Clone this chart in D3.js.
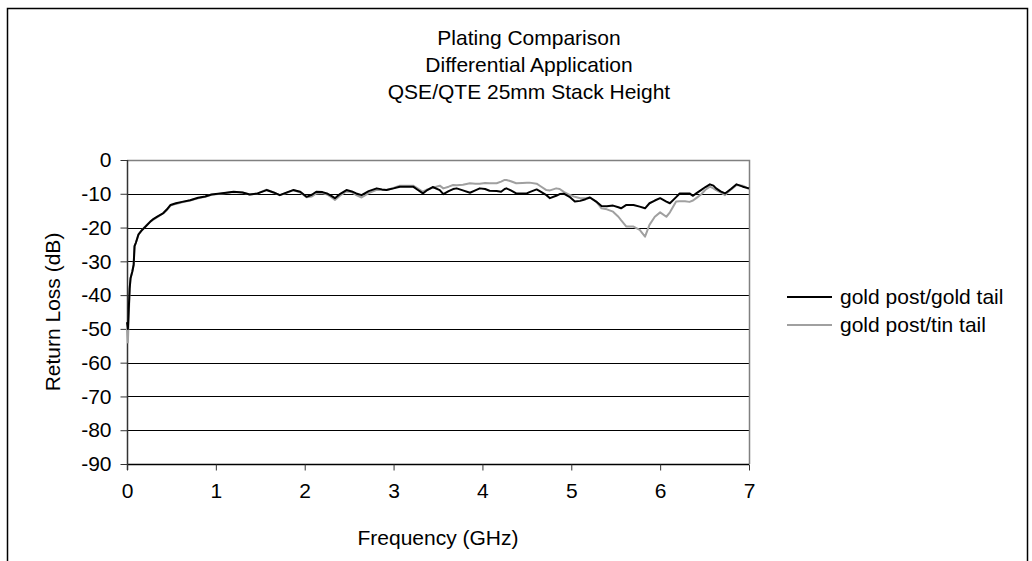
<!DOCTYPE html>
<html>
<head>
<meta charset="utf-8">
<script src="https://cdn.jsdelivr.net/npm/d3@7"></script>
<style>
  body { margin: 0; background: #fff; }
  svg { display: block; font-family: "Liberation Sans", Arial, sans-serif; }
</style>
</head>
<body>
<svg id="vis" width="1032" height="561"></svg>
<script>
'use strict';

var titleLines = ['Plating Comparison', 'Differential Application', 'QSE/QTE 25mm Stack Height'];
var seriesNames = ['gold post/gold tail', 'gold post/tin tail'];
var xTicks = [0, 1, 2, 3, 4, 5, 6, 7];
var yTicks = [0, -10, -20, -30, -40, -50, -60, -70, -80, -90];

// frequency in GHz
var freq = [0, 0.01, 0.02, 0.03, 0.04, 0.06, 0.075, 0.085, 0.1, 0.13, 0.17, 0.21, 0.26, 0.3, 0.35,
    0.41, 0.45, 0.49, 0.55, 0.62, 0.71, 0.8, 0.88, 0.95, 1.05, 1.2, 1.3, 1.38, 1.47, 1.57,
    1.65, 1.72, 1.8, 1.87, 1.95, 2.02, 2.08, 2.13, 2.2, 2.25, 2.3, 2.34, 2.4, 2.47, 2.53,
    2.58, 2.64, 2.72, 2.81, 2.87, 2.92, 3.0, 3.07, 3.15, 3.22, 3.27, 3.33, 3.38, 3.44, 3.52,
    3.56, 3.62, 3.67, 3.71, 3.78, 3.86, 3.92, 3.97, 4.03, 4.08, 4.16, 4.21, 4.25, 4.27, 4.32,
    4.38, 4.45, 4.5, 4.53, 4.61, 4.65, 4.72, 4.76, 4.83, 4.87, 4.92, 4.98, 5.04, 5.1, 5.16,
    5.21, 5.28, 5.34, 5.4, 5.47, 5.53, 5.56, 5.62, 5.7, 5.77, 5.83, 5.88, 5.94, 6.0, 6.07,
    6.11, 6.18, 6.22, 6.28, 6.33, 6.37, 6.41, 6.46, 6.51, 6.56, 6.6, 6.63, 6.68, 6.73, 6.8,
    6.86, 6.93, 7.0];

// return loss in dB, gold post/gold tail
var goldTail = [-48, -50, -44, -38, -35, -33, -31, -25.5, -24.5, -22, -20.7, -19.7, -18.3, -17.4, -16.6,
    -15.7, -14.6, -13.3, -12.8, -12.4, -11.9, -11.2, -10.8, -10.2, -9.9, -9.4, -9.6, -10.2, -9.9, -8.9,
    -9.6, -10.4, -9.6, -8.9, -9.4, -10.9, -10.3, -9.4, -9.5, -9.9, -10.6, -11.3, -10.0, -8.9, -9.3,
    -9.9, -10.4, -9.2, -8.4, -8.7, -8.9, -8.4, -7.9, -7.9, -7.9, -8.8, -9.9, -8.9, -8.0, -8.9,
    -10.1, -9.2, -8.6, -8.4, -9.0, -9.7, -9.0, -8.4, -8.6, -9.1, -9.2, -9.4, -8.6, -8.4, -9.0,
    -9.9, -9.9, -9.9, -9.5, -8.7, -9.3, -10.4, -11.3, -10.6, -10.1, -10.0, -10.9, -12.3, -12.1, -11.6,
    -11.1, -12.3, -13.6, -13.7, -13.5, -14.0, -14.3, -13.3, -13.3, -13.8, -14.3, -12.8, -12.0, -11.3, -12.3,
    -12.8, -11.0, -9.9, -9.9, -9.9, -10.6, -9.8, -8.9, -8.0, -7.2, -7.6, -8.4, -9.3, -9.9, -8.5,
    -7.2, -7.9, -8.4];

// return loss in dB, gold post/tin tail
var tinTail = [-50, -54, -46, -38, -35, -33, -31, -25.5, -24.5, -22, -20.7, -19.5, -18.3, -17.6, -16.8,
    -15.7, -14.8, -13.5, -13.0, -12.5, -12.0, -11.3, -10.9, -10.3, -10.0, -9.5, -9.6, -10.2, -9.9, -8.8,
    -9.6, -10.4, -9.7, -8.9, -9.6, -11.0, -10.8, -9.9, -9.8, -10.2, -11.0, -11.8, -10.5, -9.3, -9.5,
    -10.4, -11.1, -9.8, -8.8, -8.9, -8.9, -8.3, -7.6, -7.6, -7.6, -8.4, -9.4, -8.7, -8.2, -7.6,
    -8.4, -7.9, -7.4, -7.5, -7.3, -6.9, -7.0, -7.0, -6.8, -6.9, -6.9, -6.4, -5.9, -5.9, -6.3,
    -6.9, -6.8, -6.7, -6.7, -7.0, -7.7, -8.9, -9.0, -8.4, -8.6, -9.5, -10.3, -10.9, -11.3, -11.3,
    -11.1, -12.3, -14.3, -14.6, -15.3, -16.8, -17.8, -19.7, -19.7, -20.7, -22.7, -19.2, -16.8, -15.5, -16.8,
    -15.5, -12.3, -12.2, -12.2, -12.4, -12.0, -11.2, -10.2, -8.8, -7.9, -8.4, -8.9, -9.6, -10.4, -8.7,
    -7.4, -7.6, -8.6];

var seriesColors = ['#000000', '#a0a0a0'];
var fontSize = 21;

var svg = d3.select('#vis');
var plot = {left: 127, top: 160, right: 749, bottom: 464};

// chart area border
svg.append('rect')
    .attr('x', 7.5).attr('y', 8.5)
    .attr('width', 1020).attr('height', 600)
    .attr('fill', '#fff')
    .attr('stroke', '#000')
    .attr('stroke-width', 1.5);

var x = d3.scaleLinear().domain([0, 7]).range([plot.left, plot.right]);
var y = d3.scaleLinear().domain([-90, 0]).range([plot.bottom, plot.top]);

// title
svg.append('g').selectAll('text')
    .data(titleLines)
    .enter().append('text')
    .attr('x', 529)
    .attr('y', function(d, i){ return 45 + i * 27; })
    .attr('text-anchor', 'middle')
    .attr('font-size', fontSize)
    .text(function(d){ return d; });

// gridlines
svg.append('g')
    .selectAll('line')
    .data(yTicks.filter(function(d){ return d > -90 && d < 0; }))
    .enter().append('line')
    .attr('x1', plot.left).attr('x2', plot.right)
    .attr('y1', function(d){ return Math.round(y(d)) + 0.5; })
    .attr('y2', function(d){ return Math.round(y(d)) + 0.5; })
    .attr('stroke', '#000');

// plot area border (top and right)
svg.append('path')
    .attr('d', 'M' + plot.left + ',' + (plot.top + 0.5) + 'H' + (plot.right + 0.5) + 'V' + plot.bottom)
    .attr('fill', 'none')
    .attr('stroke', '#808080')
    .attr('stroke-width', 1.5);

// axes
var xAxis = svg.append('g')
    .attr('transform', 'translate(0,' + (plot.bottom + 0.5) + ')')
    .call(d3.axisBottom(x).tickValues(xTicks).tickSize(6).tickPadding(13)
        .tickFormat(function(d){ return String(d); }));

var yAxis = svg.append('g')
    .attr('transform', 'translate(' + (plot.left + 0.5) + ',0)')
    .call(d3.axisLeft(y).tickValues(yTicks).tickSize(7).tickPadding(9)
        .tickFormat(function(d){ return String(d); }));

[xAxis, yAxis].forEach(function(a){
    a.select('.domain').attr('stroke', '#333').attr('stroke-width', 1.5);
    a.selectAll('.tick line').attr('stroke', '#333');
    a.selectAll('.tick text')
        .attr('font-size', fontSize)
        .attr('font-family', '"Liberation Sans", Arial, sans-serif')
        .attr('fill', '#000');
});
yAxis.select('.domain').attr('d', 'M0,' + plot.top + 'V' + (plot.bottom + 6));
xAxis.select('.domain').attr('d', 'M' + plot.left + ',0H' + plot.right).attr('stroke', '#000');

// series lines
var line = d3.line()
    .x(function(d){ return x(d[0]); })
    .y(function(d){ return y(d[1]); });

[tinTail, goldTail].forEach(function(vals){
    var idx = vals === goldTail ? 0 : 1;
    svg.append('path')
        .datum(freq.map(function(f, i){ return [f, vals[i]]; }))
        .attr('fill', 'none')
        .attr('stroke', seriesColors[idx])
        .attr('stroke-width', 2)
        .attr('stroke-linejoin', 'round')
        .attr('d', line);
});

// axis titles
svg.append('text')
    .attr('x', (plot.left + plot.right) / 2)
    .attr('y', 545)
    .attr('text-anchor', 'middle')
    .attr('font-size', fontSize)
    .text('Frequency (GHz)');

svg.append('text')
    .attr('transform', 'translate(60,' + ((plot.top + plot.bottom) / 2) + ') rotate(-90)')
    .attr('text-anchor', 'middle')
    .attr('font-size', fontSize)
    .text('Return Loss (dB)');

// legend
var legend = svg.append('g').selectAll('g')
    .data(seriesNames)
    .enter().append('g')
    .attr('transform', function(d, i){ return 'translate(787,' + (297 + i * 28) + ')'; });

legend.append('line')
    .attr('x1', 0).attr('x2', 45)
    .attr('stroke', function(d, i){ return seriesColors[i]; })
    .attr('stroke-width', 2);

legend.append('text')
    .attr('x', 53).attr('y', 7)
    .attr('font-size', fontSize)
    .text(function(d){ return d; });
</script>
</body>
</html>
